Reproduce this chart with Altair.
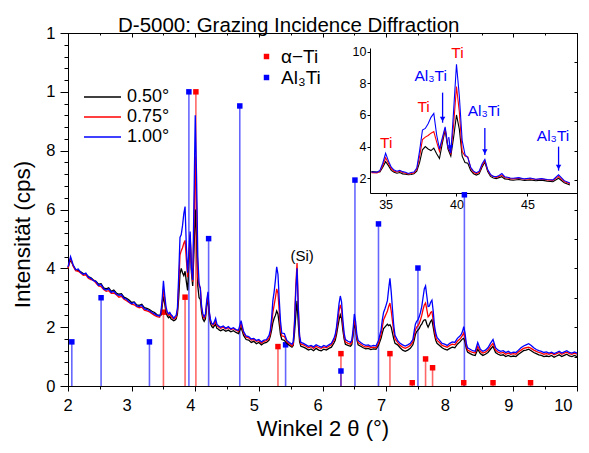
import altair as alt
import pandas as pd

FONT = "Liberation Sans, Arial, Helvetica, sans-serif"

TITLE = "D-5000: Grazing Incidence Diffraction"
X_TITLE = "Winkel 2 θ (°)"
Y_TITLE = "Intensität (cps)"

SERIES = ["0.50°", "0.75°", "1.00°"]
SERIES_COLORS = ["#000000", "#ff0000", "#0000ff"]
PHASES = ["α−Ti", "Al₃Ti"]
PHASE_COLORS = ["#ff0000", "#0000ff"]

# ---- diffraction patterns (2 theta, intensity) ----
two_theta = [
    2.00, 2.04, 2.08, 2.12, 2.16, 2.20, 2.24, 2.28, 2.32, 2.36, 2.40, 2.44, 2.48, 2.52, 2.56, 2.60, 2.64, 2.68, 2.72,
    2.76, 2.80, 2.84, 2.88, 2.92, 2.96, 3.00, 3.04, 3.08, 3.12, 3.16, 3.20, 3.24, 3.28, 3.32, 3.36, 3.40, 3.44,
    3.46, 3.48, 3.50, 3.52, 3.54, 3.56, 3.58, 3.60, 3.62, 3.64, 3.66, 3.68, 3.70, 3.72, 3.74, 3.76, 3.78, 3.80,
    3.82, 3.84, 3.86, 3.88, 3.90, 3.92, 3.94, 3.96, 3.98, 4.00, 4.02, 4.04, 4.06, 4.08, 4.10, 4.12, 4.14, 4.16,
    4.18, 4.20, 4.22, 4.24, 4.26, 4.28, 4.30, 4.32, 4.34, 4.36, 4.38, 4.40,
    4.44, 4.48, 4.52, 4.56, 4.60, 4.64, 4.68, 4.72, 4.76, 4.80, 4.84, 4.88, 4.92, 4.96, 5.00, 5.04, 5.08, 5.12, 5.16,
    5.18, 5.20, 5.22, 5.24, 5.26, 5.28, 5.30, 5.32, 5.34, 5.36,
    5.40, 5.44, 5.48, 5.52,
    5.54, 5.56, 5.58, 5.60, 5.62, 5.64, 5.66,
    5.70, 5.74, 5.78, 5.82, 5.86, 5.90, 5.94, 5.98, 6.02, 6.06, 6.10, 6.14, 6.18,
    6.20, 6.22, 6.24, 6.26, 6.28, 6.30, 6.32, 6.34, 6.36,
    6.40, 6.44,
    6.46, 6.48, 6.50, 6.52, 6.54, 6.56,
    6.60, 6.64, 6.68, 6.72, 6.76, 6.80, 6.84, 6.88, 6.92,
    6.94, 6.96, 6.98, 7.00, 7.02, 7.04, 7.06, 7.08, 7.10, 7.12, 7.14,
    7.18, 7.22, 7.26, 7.30, 7.34, 7.38, 7.42,
    7.44, 7.46, 7.48, 7.50, 7.52, 7.54, 7.56, 7.58, 7.60, 7.62, 7.64, 7.66, 7.68, 7.70, 7.72, 7.74, 7.76, 7.78, 7.80,
    7.84, 7.88, 7.92, 7.96, 8.00, 8.04, 8.08, 8.12, 8.16,
    8.18, 8.20, 8.22, 8.24, 8.26, 8.28,
    8.32, 8.36, 8.40, 8.44, 8.48, 8.52, 8.56, 8.60, 8.64, 8.68, 8.72, 8.76, 8.80, 8.84, 8.88, 8.92, 8.96, 9.00,
    9.04, 9.08, 9.12, 9.16, 9.20, 9.24, 9.28, 9.32, 9.36, 9.40, 9.44, 9.48, 9.52, 9.56, 9.60, 9.64, 9.68, 9.72,
    9.76, 9.80, 9.84, 9.88, 9.92, 9.96, 10.00,
]

int_050 = [
    4.02, 4.30, 4.10, 3.96, 3.92, 3.88, 3.82, 3.80, 3.72, 3.68, 3.60, 3.56, 3.46, 3.48, 3.34, 3.30, 3.34, 3.22, 3.26,
    3.16, 3.12, 3.14, 3.02, 2.98, 2.92, 2.84, 2.86, 2.76, 2.74, 2.78, 2.66, 2.64, 2.60, 2.54, 2.50, 2.42, 2.40,
    2.40, 2.70, 3.05, 2.80, 2.50, 2.38, 2.32, 2.36, 2.28, 2.25, 2.22, 2.24, 2.28, 2.45, 3.00, 3.80, 4.00, 3.85,
    3.75, 3.90, 3.55, 3.25, 4.20, 5.05, 3.85, 3.40, 4.60, 6.00, 5.10, 3.40, 3.00, 2.95, 2.50, 2.28, 2.20, 2.28,
    2.70, 3.02, 2.42, 2.12, 2.02, 1.98, 2.04, 2.10, 1.96, 1.94, 1.90, 1.88,
    1.92, 1.86, 1.90, 1.84, 1.88, 1.82, 1.78, 2.00, 1.72, 1.58, 1.56, 1.48, 1.52, 1.44, 1.48, 1.40, 1.46, 1.48, 1.56,
    1.70, 1.90, 2.15, 2.30, 2.40, 2.55, 2.45, 2.10, 1.75, 1.58,
    1.55, 1.44, 1.38, 1.32,
    1.38, 1.80, 2.40, 2.90, 2.10, 1.50, 1.35,
    1.32, 1.28, 1.22, 1.26, 1.20, 1.28, 1.22, 1.20, 1.25, 1.22, 1.28, 1.32, 1.46,
    1.55, 1.75, 2.00, 2.25, 2.42, 2.30, 1.90, 1.60, 1.42,
    1.38, 1.35,
    1.40, 1.70, 2.12, 1.95, 1.58, 1.40,
    1.35, 1.30, 1.26, 1.28, 1.24, 1.26, 1.25, 1.38, 1.62,
    1.80, 1.95, 2.00, 2.05, 2.10, 2.05, 2.08, 2.00, 1.80, 1.60, 1.45,
    1.40, 1.30, 1.22, 1.18, 1.22, 1.28, 1.40,
    1.55, 1.75, 1.85, 1.90, 1.95, 2.05, 2.10, 2.20, 2.25, 2.25, 2.10, 2.00, 2.10, 2.20, 2.25, 2.00, 1.75, 1.55, 1.45,
    1.38, 1.30, 1.25, 1.22, 1.28, 1.32, 1.30, 1.42, 1.50,
    1.55, 1.60, 1.62, 1.50, 1.28, 1.15,
    1.10, 1.06, 1.04, 1.25, 1.10, 1.04, 1.08, 1.14, 1.25, 1.35, 1.14, 1.08, 1.04, 1.06, 1.00, 1.04, 1.00, 1.02,
    1.00, 1.08, 1.14, 1.20, 1.22, 1.25, 1.20, 1.14, 1.10, 1.06, 1.04, 1.00, 1.02, 1.00, 1.04, 0.98, 1.02, 1.06,
    1.00, 1.04, 1.08, 1.02, 1.00, 1.04, 1.00,
]

int_075 = [
    4.00, 4.35, 4.08, 3.92, 3.90, 3.84, 3.76, 3.78, 3.66, 3.62, 3.60, 3.50, 3.40, 3.38, 3.28, 3.22, 3.24, 3.15, 3.16,
    3.10, 3.02, 3.05, 2.95, 2.90, 2.84, 2.78, 2.76, 2.70, 2.66, 2.68, 2.58, 2.55, 2.52, 2.46, 2.40, 2.36, 2.34,
    2.45, 2.80, 3.30, 2.95, 2.60, 2.45, 2.40, 2.44, 2.36, 2.32, 2.28, 2.30, 2.34, 2.55, 3.40, 4.45, 4.60, 4.70,
    4.85, 4.95, 4.30, 3.70, 4.40, 5.15, 3.95, 3.55, 5.40, 7.80, 6.20, 3.70, 3.40, 3.35, 2.65, 2.38, 2.30, 2.38,
    2.80, 3.12, 2.50, 2.20, 2.12, 2.06, 2.12, 2.20, 2.05, 2.02, 1.98, 1.96,
    2.00, 1.94, 1.98, 1.92, 1.95, 1.90, 1.86, 2.12, 1.80, 1.66, 1.64, 1.56, 1.58, 1.52, 1.54, 1.46, 1.52, 1.54, 1.62,
    1.80, 2.10, 2.50, 2.75, 3.00, 3.30, 3.15, 2.55, 1.95, 1.70,
    1.68, 1.50, 1.44, 1.36,
    1.42, 2.20, 3.40, 4.18, 2.70, 1.65, 1.42,
    1.40, 1.35, 1.30, 1.34, 1.28, 1.35, 1.30, 1.28, 1.33, 1.30, 1.35, 1.40, 1.55,
    1.65, 1.88, 2.20, 2.55, 2.76, 2.60, 2.05, 1.70, 1.50,
    1.45, 1.42,
    1.48, 1.80, 2.25, 2.05, 1.65, 1.48,
    1.42, 1.36, 1.32, 1.35, 1.30, 1.32, 1.30, 1.45, 1.75,
    2.00, 2.25, 2.35, 2.45, 2.55, 2.70, 2.82, 2.55, 2.20, 1.85, 1.60,
    1.48, 1.38, 1.32, 1.28, 1.32, 1.38, 1.50,
    1.70, 1.90, 2.00, 2.05, 2.12, 2.25, 2.40, 2.60, 2.75, 2.82, 2.60, 2.35, 2.40, 2.50, 2.53, 2.25, 1.90, 1.65, 1.55,
    1.48, 1.38, 1.35, 1.32, 1.38, 1.42, 1.40, 1.52, 1.60,
    1.65, 1.72, 1.80, 1.65, 1.38, 1.22,
    1.18, 1.14, 1.12, 1.35, 1.18, 1.12, 1.15, 1.22, 1.35, 1.45, 1.22, 1.15, 1.12, 1.14, 1.08, 1.12, 1.08, 1.10,
    1.08, 1.16, 1.22, 1.28, 1.30, 1.32, 1.28, 1.22, 1.18, 1.14, 1.12, 1.08, 1.10, 1.08, 1.12, 1.06, 1.10, 1.14,
    1.08, 1.12, 1.15, 1.10, 1.08, 1.12, 1.08,
]

int_100 = [
    4.05, 4.40, 4.12, 3.95, 3.98, 3.86, 3.80, 3.84, 3.70, 3.66, 3.58, 3.55, 3.42, 3.45, 3.30, 3.26, 3.30, 3.18, 3.22,
    3.12, 3.08, 3.10, 2.98, 2.95, 2.86, 2.80, 2.84, 2.72, 2.70, 2.74, 2.62, 2.60, 2.56, 2.50, 2.45, 2.40, 2.38,
    2.50, 2.95, 3.58, 3.10, 2.70, 2.52, 2.45, 2.50, 2.42, 2.38, 2.30, 2.36, 2.40, 2.65, 3.75, 5.05, 5.15, 5.45,
    5.85, 6.10, 4.75, 3.85, 4.55, 5.25, 4.00, 3.60, 6.30, 9.20, 7.20, 4.40, 3.50, 3.30, 2.70, 2.45, 2.35, 2.45,
    2.90, 3.20, 2.55, 2.25, 2.12, 2.10, 2.18, 2.30, 2.10, 2.06, 2.02, 2.00,
    2.04, 1.96, 2.02, 1.94, 1.98, 1.92, 1.90, 2.22, 1.85, 1.70, 1.68, 1.60, 1.62, 1.55, 1.58, 1.50, 1.56, 1.58, 1.72,
    1.90, 2.30, 2.90, 3.20, 3.60, 4.05, 3.80, 2.95, 2.20, 1.80,
    1.78, 1.55, 1.48, 1.42,
    1.50, 2.10, 3.20, 4.00, 2.60, 1.70, 1.48,
    1.45, 1.40, 1.35, 1.38, 1.33, 1.40, 1.36, 1.32, 1.38, 1.34, 1.40, 1.45, 1.62,
    1.75, 2.00, 2.40, 2.80, 3.06, 2.85, 2.25, 1.80, 1.58,
    1.52, 1.48,
    1.55, 1.90, 2.45, 2.20, 1.75, 1.55,
    1.48, 1.42, 1.38, 1.40, 1.35, 1.38, 1.36, 1.55, 1.90,
    2.25, 2.50, 2.62, 2.75, 2.90, 3.30, 3.66, 3.20, 2.60, 2.05, 1.72,
    1.55, 1.45, 1.40, 1.36, 1.40, 1.45, 1.58,
    1.85, 2.10, 2.20, 2.25, 2.35, 2.50, 2.70, 3.00, 3.30, 3.40, 3.05, 2.70, 2.72, 2.85, 2.92, 2.55, 2.05, 1.80, 1.65,
    1.55, 1.45, 1.42, 1.38, 1.45, 1.50, 1.48, 1.62, 1.70,
    1.75, 1.85, 2.02, 1.80, 1.45, 1.30,
    1.25, 1.20, 1.18, 1.48, 1.25, 1.18, 1.22, 1.30, 1.45, 1.58, 1.30, 1.22, 1.18, 1.20, 1.14, 1.18, 1.12, 1.15,
    1.14, 1.22, 1.30, 1.36, 1.40, 1.44, 1.38, 1.30, 1.24, 1.20, 1.18, 1.14, 1.16, 1.12, 1.15, 1.10, 1.14, 1.18,
    1.12, 1.16, 1.20, 1.14, 1.12, 1.16, 1.12,
]

# ---- reference stick patterns ----
ti_pos = [3.50, 3.84, 4.01, 5.30, 6.29, 7.06, 7.41, 7.62, 7.73, 8.22, 8.68, 9.27]
ti_int = [2.51, 3.02, 10.0, 1.34, 1.10, 1.10, 0.11, 0.92, 0.62, 0.11, 0.11, 0.11]
al_pos = [2.06, 2.52, 3.28, 3.90, 4.21, 4.70, 5.42, 6.29, 6.51, 6.88, 7.50, 8.23]
al_int = [1.50, 3.00, 1.50, 10.0, 5.01, 9.52, 1.40, 0.51, 7.00, 5.51, 4.01, 6.50]

# ---- inset annotations (inset axis units) ----
ti_lab_x = [35.04, 37.68, 40.07]
ti_lab_y = [4.21, 6.48, 9.93]
al_lab_x = [38.18, 41.93, 46.81]
al_lab_y = [8.46, 6.25, 4.67]
arrow_x = [39.02, 39.45, 42.00, 47.20]
arrow_y = [7.41, 4.60, 5.18, 4.00]
arrow_x2 = [39.02, 39.58, 42.00, 47.20]
arrow_y2 = [5.51, 3.72, 3.47, 2.48]

si_x, si_y, si_text = [5.68], [4.42], ["(Si)"]

n = len(two_theta)
assert len(int_050) == n and len(int_075) == n and len(int_100) == n, (n, len(int_050), len(int_075), len(int_100))

curves = pd.DataFrame({
    "x": two_theta * 3,
    "y": int_050 + int_075 + int_100,
    "series": [SERIES[0]] * n + [SERIES[1]] * n + [SERIES[2]] * n,
})
sticks = pd.DataFrame({
    "x": ti_pos + al_pos,
    "h": ti_int + al_int,
    "phase": [PHASES[0]] * len(ti_pos) + [PHASES[1]] * len(al_pos),
})
ti_sticks = pd.DataFrame({"x": ti_pos, "h": ti_int})
al_sticks = pd.DataFrame({"x": al_pos, "h": al_int})
ti_labels = pd.DataFrame({"xi": ti_lab_x, "yi": ti_lab_y, "t": ["Ti"] * len(ti_lab_x)})
al_labels = pd.DataFrame({"xi": al_lab_x, "yi": al_lab_y, "t": ["Al₃Ti"] * len(al_lab_x)})
arrows_df = pd.DataFrame({"xa": arrow_x, "ya": arrow_y, "xa2": arrow_x2, "ya2": arrow_y2})
si_df = pd.DataFrame({"x": si_x, "y": si_y, "t": si_text})

W, H = 509, 353
PAD_L, PAD_T, PAD_R, PAD_B = 60, 25, 4, 55


def ax(**kw):
    base = dict(domainColor="black", tickColor="black", labelColor="black", grid=False,
                labelFont=FONT, titleFont=FONT, titleColor="black", domainWidth=1, tickWidth=1)
    base.update(kw)
    return alt.Axis(**base)


xs = alt.Scale(domain=[2, 10], nice=False, zero=False)
ys = alt.Scale(domain=[0, 12], nice=False, zero=False)
series_scale = alt.Scale(domain=SERIES, range=SERIES_COLORS)
phase_scale = alt.Scale(domain=PHASES, range=PHASE_COLORS)

series_legend = alt.Legend(orient="none", legendX=15, legendY=55, title=None, symbolType="stroke",
                           symbolSize=1369, symbolStrokeWidth=1.3, labelFontSize=18, labelFont=FONT,
                           labelColor="black", clipHeight=18, rowPadding=2, labelOffset=5, padding=0)
phase_legend = alt.Legend(orient="none", legendX=189, legendY=14, title=None, symbolType="square",
                          symbolSize=30, symbolStrokeWidth=0, labelFontSize=19, labelFont=FONT,
                          labelColor="black", rowPadding=1, labelOffset=5, padding=0)

x_major = list(range(2, 11))
x_minor = [v + 0.5 for v in range(2, 10)]
y_major = list(range(0, 13, 2))
y_minor = [round(v * 0.4, 1) for v in range(0, 31) if round(v * 0.4, 1) not in y_major]
y_right = list(range(0, 13))

ti_rules = alt.Chart(ti_sticks).mark_rule(strokeWidth=1.6, opacity=0.6, color=PHASE_COLORS[0]).encode(
    x=alt.X("x:Q", scale=xs, title=None, axis=ax(orient="bottom", values=x_minor, tickSize=3, labels=False)),
    y=alt.Y("h:Q", scale=ys, title=None, axis=ax(orient="left", values=y_minor, tickSize=4, labels=False)),
    y2=alt.datum(0),
)
al_rules = alt.Chart(al_sticks).mark_rule(strokeWidth=1.6, opacity=0.6, color=PHASE_COLORS[1]).encode(
    x=alt.X("x:Q", scale=xs, axis=None),
    y=alt.Y("h:Q", scale=ys, axis=None),
    y2=alt.datum(0),
)

squares = alt.Chart(sticks).mark_square(size=30, opacity=1, strokeWidth=0).encode(
    x=alt.X("x:Q", scale=xs, title=None,
            axis=ax(orient="bottom", offset=-H, values=x_major, tickSize=4, labels=False)),
    y=alt.Y("h:Q", scale=ys, title=None,
            axis=ax(orient="left", offset=-W, values=y_right, tickSize=3, labels=False)),
    fill=alt.Fill("phase:N", scale=phase_scale, legend=phase_legend),
)

main_lines = alt.Chart(curves).mark_line(strokeWidth=1.3).encode(
    x=alt.X("x:Q", scale=xs, title=X_TITLE,
            axis=ax(orient="bottom", values=x_major, tickSize=5, labelFontSize=16.5, labelPadding=6,
                    labelOffset=-5, titleFontSize=22, titleFontWeight="normal", titleY=42,
                    titleBaseline="middle")),
    y=alt.Y("y:Q", scale=ys, title=Y_TITLE,
            axis=ax(orient="left", values=y_major, tickSize=8, labelFontSize=16.5, labelPadding=5,
                    labelExpr="datum.value >= 10 ? '1' : datum.label",
                    titleFontSize=22.5, titleFontWeight="normal", titleX=-46, titleY=201,
                    titleAngle=270, titleAlign="center", titleBaseline="middle")),
    stroke=alt.Stroke("series:N", scale=series_scale, legend=series_legend),
)

si_label = alt.Chart(si_df).mark_text(fontSize=15, font=FONT, color="black").encode(
    x=alt.X("x:Q", scale=xs, title=None,
            axis=ax(orient="bottom", offset=-H, values=x_minor, tickSize=2, labels=False)),
    y=alt.Y("y:Q", scale=ys, axis=None),
    text="t:N",
)

main_layer = alt.layer(ti_rules, al_rules, squares, main_lines, si_label).resolve_axis(
    x="independent", y="independent")

INSET_LEFT = 302
ixs = alt.Scale(domain=[33.9, 48.5], range=[INSET_LEFT, W], nice=False, zero=False)
iys = alt.Scale(domain=[1.07, 10.23], range=[160, 15], nice=False, zero=False)

inset_lines = alt.Chart(curves).transform_filter(
    "datum.x >= 3.39 && datum.x <= 4.81"
).transform_calculate(xi="datum.x * 10").mark_line(strokeWidth=1.1).encode(
    x=alt.X("xi:Q", scale=ixs, title=None,
            axis=ax(orient="bottom", offset=-(H - 160), values=[35, 40, 45], tickSize=3,
                    labelFontSize=12.5, labelPadding=2)),
    y=alt.Y("y:Q", scale=iys, title=None,
            axis=ax(orient="left", offset=-INSET_LEFT, values=[2, 4, 6, 8, 10], tickSize=3,
                    labelFontSize=12.5, labelPadding=1)),
    stroke=alt.Stroke("series:N", scale=series_scale, legend=series_legend),
)

ti_text = alt.Chart(ti_labels).mark_text(fontSize=15.5, font=FONT, color=PHASE_COLORS[0]).encode(
    x=alt.X("xi:Q", scale=ixs, axis=None),
    y=alt.Y("yi:Q", scale=iys, axis=None),
    text="t:N",
)
al_text = alt.Chart(al_labels).mark_text(fontSize=15.5, font=FONT, color=PHASE_COLORS[1]).encode(
    x=alt.X("xi:Q", scale=ixs, axis=None),
    y=alt.Y("yi:Q", scale=iys, axis=None),
    text="t:N",
)

inset_arrows = alt.Chart(arrows_df).mark_rule(color="#0000ff", strokeWidth=1.3).encode(
    x=alt.X("xa:Q", scale=ixs, axis=None),
    y=alt.Y("ya:Q", scale=iys, axis=None),
    x2="xa2:Q",
    y2="ya2:Q",
)

inset_heads = alt.Chart(arrows_df).transform_calculate(yh="datum.ya2 + 0.22").mark_point(
    shape="triangle-down", filled=True, size=30, color="#0000ff", opacity=1
).encode(
    x=alt.X("xa2:Q", scale=ixs, axis=None),
    y=alt.Y("yh:Q", scale=iys, axis=None),
)

inset_layer = alt.layer(inset_lines, ti_text, al_text, inset_arrows, inset_heads).resolve_axis(
    x="independent", y="independent")

chart = alt.layer(main_layer, inset_layer).resolve_scale(
    x="independent", y="independent"
).properties(
    width=W, height=H,
    title=alt.TitleParams(text=TITLE, anchor="start", dx=50, offset=-27, baseline="alphabetic",
                          fontSize=20.5, fontWeight="normal", font=FONT, color="black", frame="group"),
    padding={"left": PAD_L, "top": PAD_T, "right": PAD_R, "bottom": PAD_B},
    autosize=alt.AutoSizeParams(type="none"),
    background="white",
).configure_view(stroke=None)

chart.save("out.html", embed_options={"renderer": "svg", "actions": False})
